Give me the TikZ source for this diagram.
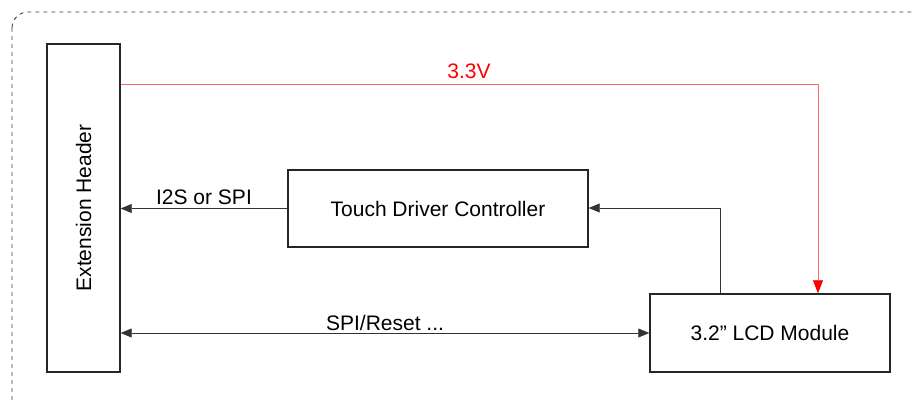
\documentclass[tikz,border=0pt]{standalone}
\usepackage{fontspec}
\setmainfont{Liberation Sans}
\usetikzlibrary{arrows.meta}
\begin{document}
\begin{tikzpicture}[x=1pt,y=-1pt,
  blk/.style={draw=black!85,line width=1.4pt,inner sep=0pt,font=\fontsize{21}{24}\selectfont},
  conn/.style={draw=black!80,line width=0.6pt},
  tip/.style={-{Triangle[length=11pt,width=9pt]}},
  lbl/.style={font=\fontsize{21}{24}\selectfont,inner sep=1pt}]
\useasboundingbox (0,0) rectangle (914,401);
\begin{scope}
\clip (0,0) rectangle (914,401);
\draw[black!75,line width=0.9pt,dash pattern=on 4pt off 4pt,rounded corners=16pt] (12,12) rectangle (940,420);
\end{scope}
\node[blk,minimum width=73pt,minimum height=328pt] (hdr) at (83.5,208) {};
\node[lbl,rotate=90] (hdrt) at (hdr.center) {Extension Header};
\node[blk,minimum width=300pt,minimum height=77pt] (tdc) at (438,208.5) {Touch Driver Controller};
\node[blk,minimum width=240pt,minimum height=78pt] (lcd) at (770,333) {3.2'' LCD Module};
\coordinate (rc) at (818,84);
\coordinate (uc) at (720,208);
\draw[draw=red!60,line width=0.7pt,-{Triangle[length=13pt,width=10pt,fill=red,color=red]}] (hdr.east |- rc) -- (rc) -- (rc |- lcd.north);
\node[lbl,text=red] (v33) at (469,71) {3.3V};
\draw[conn,tip] (tdc.west) -- (tdc.west -| hdr.east) node[midway,above=2pt,lbl] (i2s) {I2S or SPI};
\draw[conn,tip] (uc |- lcd.north) -- (uc) -- (tdc.east |- uc);
\draw[conn,{Triangle[length=11pt,width=9pt]}-{Triangle[length=11pt,width=9pt]}] (hdr.east |- lcd.center) -- (lcd.west) node[pos=0.5,above=1pt,lbl] (spi) {SPI/Reset ...};
\end{tikzpicture}
\end{document}
